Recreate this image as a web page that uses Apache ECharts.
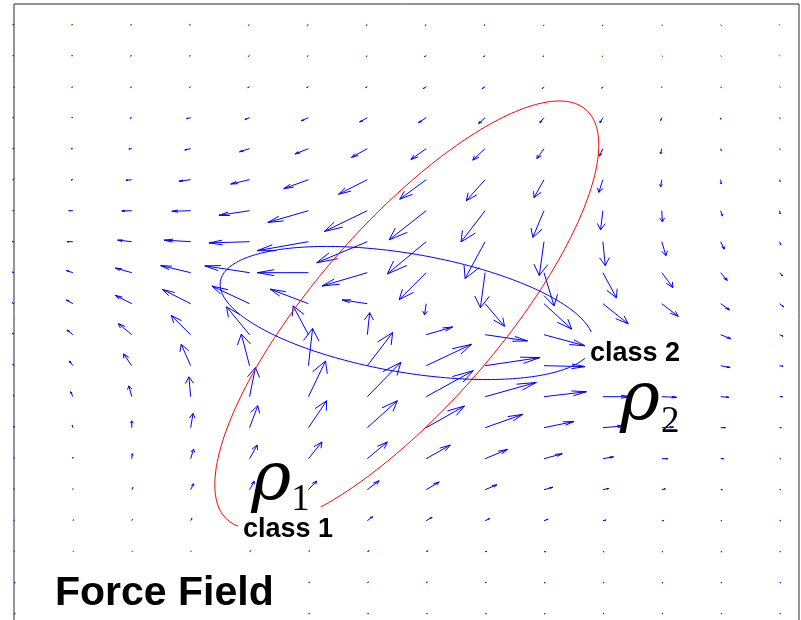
<!DOCTYPE html>
<html>
<head>
<meta charset="utf-8">
<script src="https://cdn.jsdelivr.net/npm/echarts@6/dist/echarts.min.js"></script>
<style>
  html, body { margin: 0; padding: 0; background: #ffffff; }
  #chart { width: 801px; height: 620px; }
</style>
</head>
<body>
<div id="chart"></div>
<script>
// Sample grid of the force field: 14 columns by 20 rows (rows listed top to bottom)
const gridX = [0, 1, 2, 3, 4, 5, 6, 7, 8, 9, 10, 11, 12, 13];
const gridY = [19, 18, 17, 16, 15, 14, 13, 12, 11, 10, 9, 8, 7, 6, 5, 4, 3, 2, 1, 0];

// Horizontal component of the force at each grid node
const fieldU = [
  [-0.02, -0.02, -0.02, -0.02, -0.02, -0.02, -0.02, -0.02, -0.02, -0.01, -0.01, 0.01, 0.01, 0.01],
  [-0.02, -0.02, -0.02, -0.02, -0.02, -0.02, -0.02, -0.03, -0.03, -0.02, -0.01, 0.01, 0.01, 0.01],
  [0, -0.02, -0.02, -0.02, -0.03, -0.03, -0.03, -0.05, -0.05, -0.03, -0.02, 0, 0.01, 0.01],
  [-0.02, -0.02, -0.03, -0.07, -0.08, -0.12, -0.13, -0.13, -0.11, -0.07, -0.05, -0.02, 0, 0.01],
  [-0.02, -0.03, -0.05, -0.10, -0.17, -0.23, -0.27, -0.26, -0.21, -0.12, -0.06, -0.02, 0.01, 0.01],
  [-0.02, -0.03, -0.10, -0.20, -0.32, -0.42, -0.49, -0.45, -0.32, -0.17, -0.07, -0.02, 0.01, 0.01],
  [-0.02, -0.07, -0.17, -0.32, -0.52, -0.69, -0.73, -0.63, -0.41, -0.19, -0.04, 0.01, 0.03, 0.01],
  [-0.03, -0.10, -0.24, -0.45, -0.69, -0.87, -0.86, -0.66, -0.34, -0.08, 0.04, 0.07, 0.06, 0.02],
  [-0.03, -0.11, -0.28, -0.51, -0.76, -0.87, -0.77, -0.46, -0.08, 0.17, 0.23, 0.19, 0.11, 0.05],
  [-0.03, -0.11, -0.28, -0.48, -0.64, -0.65, -0.43, -0.03, 0.33, 0.47, 0.43, 0.28, 0.15, 0.07],
  [-0.03, -0.10, -0.23, -0.33, -0.39, -0.26, 0.04, 0.45, 0.72, 0.70, 0.51, 0.31, 0.17, 0.06],
  [-0.02, -0.06, -0.14, -0.16, -0.14, 0.07, 0.43, 0.77, 0.93, 0.70, 0.48, 0.27, 0.16, 0.06],
  [-0.01, -0.04, -0.05, -0.03, 0.10, 0.29, 0.57, 0.80, 0.87, 0.72, 0.46, 0.25, 0.14, 0.05],
  [0, -0.01, 0, 0.04, 0.14, 0.31, 0.51, 0.65, 0.64, 0.51, 0.37, 0.20, 0.08, 0.03],
  [0, 0, 0.01, 0.05, 0.13, 0.23, 0.34, 0.41, 0.38, 0.31, 0.18, 0.10, 0.05, 0.02],
  [0, 0, 0.02, 0.05, 0.08, 0.14, 0.20, 0.22, 0.20, 0.15, 0.10, 0.06, 0.03, 0.02],
  [0.01, 0.01, 0.01, 0.02, 0.05, 0.08, 0.09, 0.10, 0.08, 0.07, 0.05, 0.03, 0.02, 0.02],
  [0.01, 0.01, 0.01, 0.01, 0.02, 0.02, 0.03, 0.03, 0.03, 0.03, 0.02, 0.02, 0.02, 0.02],
  [0.02, 0.02, 0.02, 0.02, 0.02, 0.02, 0.02, 0.02, 0.02, 0.02, 0.02, 0.02, 0.02, 0.02],
  [0.02, 0.02, 0.02, 0.02, 0.02, 0.02, 0.02, 0.02, 0.02, 0.02, 0.02, 0.02, 0.02, 0.02]
];

// Vertical component of the force at each grid node
const fieldV = [
  [0, 0, -0.01, -0.01, -0.02, -0.02, -0.02, -0.02, -0.02, -0.03, -0.03, -0.02, -0.02, -0.01],
  [0, 0, -0.01, -0.01, -0.02, -0.02, -0.03, -0.03, -0.03, -0.03, -0.03, -0.02, -0.02, -0.01],
  [-0.03, -0.02, -0.03, -0.03, -0.03, -0.03, -0.03, -0.06, -0.06, -0.06, -0.05, -0.03, -0.03, -0.02],
  [0, 0, -0.02, -0.03, -0.06, -0.10, -0.14, -0.16, -0.19, -0.16, -0.16, -0.09, -0.05, -0.03],
  [0, 0, -0.01, -0.04, -0.10, -0.17, -0.28, -0.35, -0.37, -0.32, -0.24, -0.17, -0.06, -0.03],
  [0, -0.01, -0.02, -0.05, -0.14, -0.29, -0.47, -0.63, -0.68, -0.58, -0.41, -0.23, -0.14, -0.06],
  [0, 0, -0.01, -0.02, -0.15, -0.38, -0.67, -0.94, -1.01, -0.86, -0.62, -0.36, -0.17, -0.10],
  [0, 0, 0.05, 0.05, -0.04, -0.29, -0.68, -1.04, -1.19, -1.09, -0.77, -0.45, -0.24, -0.10],
  [0.02, 0.07, 0.15, 0.23, 0.22, 0, -0.43, -0.87, -1.13, -1.07, -0.81, -0.48, -0.25, -0.10],
  [0.03, 0.12, 0.27, 0.46, 0.57, 0.47, 0.12, -0.36, -0.73, -0.82, -0.65, -0.41, -0.20, -0.10],
  [0.05, 0.15, 0.36, 0.62, 0.90, 0.93, 0.71, 0.25, -0.20, -0.36, -0.32, -0.23, -0.13, -0.05],
  [0.05, 0.15, 0.38, 0.69, 1.02, 1.20, 1.07, 0.69, 0.26, -0.03, -0.10, -0.06, -0.06, -0.02],
  [0.05, 0.16, 0.35, 0.64, 0.94, 1.15, 1.11, 0.84, 0.46, 0.16, 0, -0.02, -0.02, 0],
  [0.05, 0.08, 0.22, 0.46, 0.71, 0.87, 0.87, 0.70, 0.43, 0.20, 0.06, 0.02, 0, 0],
  [0.03, 0.05, 0.16, 0.31, 0.44, 0.54, 0.54, 0.44, 0.30, 0.16, 0.06, 0, 0, 0],
  [0.03, 0.03, 0.07, 0.19, 0.27, 0.28, 0.29, 0.25, 0.16, 0.08, 0.04, 0.03, 0, 0],
  [0.02, 0.03, 0.04, 0.07, 0.13, 0.15, 0.13, 0.11, 0.07, 0.05, 0.02, 0, 0, 0],
  [0.02, 0.02, 0.02, 0.02, 0.03, 0.03, 0.03, 0.03, 0.01, 0, 0, 0, 0, 0],
  [0, 0, 0, 0, 0, 0.02, 0.02, 0.02, 0.01, 0, 0, 0, 0, 0],
  [0, 0, 0, 0, 0, 0, 0, 0, 0, 0, 0, 0, 0, 0]
];

// Density contour of each class: centre and two conjugate semi-axis vectors
const class1Center = [6.67, 9.64];
const class1Axes = [[3.26, 5.48], [0, 4.19]];
const class2Center = [6.67, 9.70];
const class2Axes = [[3.17, -0.92], [0, 1.94]];

// ---------------------------------------------------------------------------

const arrowData = [];
gridY.forEach((y, r) => {
  gridX.forEach((x, c) => {
    arrowData.push([x, y, fieldU[r][c], fieldV[r][c]]);
  });
});

function contourPoints(center, axes, steps) {
  const pts = [];
  for (let i = 0; i <= steps; i++) {
    const t = (i / steps) * Math.PI * 2;
    const ct = Math.cos(t), st = Math.sin(t);
    pts.push([
      center[0] + axes[0][0] * ct + axes[1][0] * st,
      center[1] + axes[0][1] * ct + axes[1][1] * st
    ]);
  }
  return pts;
}

// quiver-style arrow: shaft plus two head strokes, head geometry in data space
const HEAD_LEN = 0.33;
const HEAD_WIDTH = 0.33;
function renderArrow(params, api) {
  const x = api.value(0), y = api.value(1), u = api.value(2), v = api.value(3);
  const tx = x + u, ty = y + v;
  const tail = api.coord([x, y]);
  const tip = api.coord([tx, ty]);
  const h1 = api.coord([tx - HEAD_LEN * (u + HEAD_WIDTH * v), ty - HEAD_LEN * (v - HEAD_WIDTH * u)]);
  const h2 = api.coord([tx - HEAD_LEN * (u - HEAD_WIDTH * v), ty - HEAD_LEN * (v + HEAD_WIDTH * u)]);
  const style = { stroke: '#0000ff', lineWidth: 1, fill: null };
  return {
    type: 'group',
    children: [
      { type: 'polyline', shape: { points: [tail, tip] }, style },
      { type: 'polyline', shape: { points: [h1, tip, h2] }, style }
    ]
  };
}

const hiddenAxis = {
  type: 'value',
  axisLine: { show: false },
  axisTick: { show: false },
  axisLabel: { show: false },
  splitLine: { show: false }
};

const option = {
  animation: false,
  backgroundColor: '#ffffff',
  grid: {
    show: true,
    left: 14,
    top: 4,
    width: 785,
    height: 640.7,
    outerBoundsMode: 'none',
    containLabel: false,
    borderColor: '#2a2a2a',
    borderWidth: 1,
    backgroundColor: 'transparent'
  },
  xAxis: Object.assign({}, hiddenAxis, { min: 0, max: 13.33 }),
  yAxis: Object.assign({}, hiddenAxis, { min: -1, max: 19.667 }),
  series: [
    {
      name: 'force',
      type: 'custom',
      coordinateSystem: 'cartesian2d',
      data: arrowData,
      encode: { x: 0, y: 1 },
      renderItem: renderArrow,
      silent: true,
      clip: false,
      z: 2
    },
    {
      name: 'class 1',
      type: 'line',
      data: contourPoints(class1Center, class1Axes, 240),
      showSymbol: false,
      smooth: false,
      silent: true,
      lineStyle: { color: '#ff0000', width: 1 },
      z: 3
    },
    {
      name: 'class 2',
      type: 'line',
      data: contourPoints(class2Center, class2Axes, 240),
      showSymbol: false,
      smooth: false,
      silent: true,
      lineStyle: { color: '#0000ff', width: 1 },
      z: 3
    }
  ]
};

const chart = echarts.init(document.getElementById('chart'), null, { renderer: 'canvas' });
chart.setOption(option);

// ---------------------------------------------------------------------------
// Annotations (anchors in data units: left edge and text baseline)
const SANS = '"Liberation Sans", Arial, Helvetica, sans-serif';
const SERIF = '"Liberation Serif", "Times New Roman", serif';
const GREEK = '"DejaVu Serif", "Liberation Serif", serif';
const SANS_MID = 0.3465;   // canvas "middle" baseline offset for the sans face
const SERIF_MID = 0.3375;  // same for the serif face
const GREEK_MID = 0.37;

function textEl(text, x, baseline, size, family, mid, weight, fstyle) {
  return {
    type: 'text',
    silent: true,
    z: 120,
    style: {
      text: text,
      x: x,
      y: baseline - mid * size,
      align: 'left',
      verticalAlign: 'middle',
      fill: '#000000',
      font: (fstyle || 'normal') + ' ' + (weight || 'normal') + ' ' + size + 'px ' + family
    }
  };
}
function boxEl(x, y, w, h) {
  return { type: 'rect', silent: true, z: 110, shape: { x: x, y: y, width: w, height: h }, style: { fill: '#ffffff' } };
}

const toPx = p => chart.convertToPixel({ gridIndex: 0 }, p);
const c1 = toPx([3.889, 2.41]);
const c2 = toPx([9.781, 8.087]);
const r1 = toPx([4.03, 3.47]);
const r2 = toPx([10.29, 6.05]);

const graphics = [
  // class labels on white boxes
  boxEl(c1[0] - 5, c1[1] - 32, 99, 41),
  textEl('class 1', c1[0], c1[1], 27, SANS, SANS_MID, 'bold'),
  boxEl(c2[0] - 5, c2[1] - 31, 98, 40),
  textEl('class 2', c2[0], c2[1], 27, SANS, SANS_MID, 'bold'),
  // density symbols
  textEl('\u03C1', r1[0], r1[1], 68, GREEK, GREEK_MID, 'normal', 'italic'),
  textEl('1', r1[0] + 40, r1[1] + 7, 37, SERIF, SERIF_MID),
  textEl('\u03C1', r2[0], r2[1], 68, GREEK, GREEK_MID, 'normal', 'italic'),
  textEl('2', r2[0] + 41, r2[1] + 9, 37, SERIF, SERIF_MID),
  // panel title
  boxEl(50, 570, 227, 50),
  textEl('Force Field', 55, 608, 41, SANS, SANS_MID, 'bold')
];
chart.setOption({ graphic: graphics });
</script>
</body>
</html>
